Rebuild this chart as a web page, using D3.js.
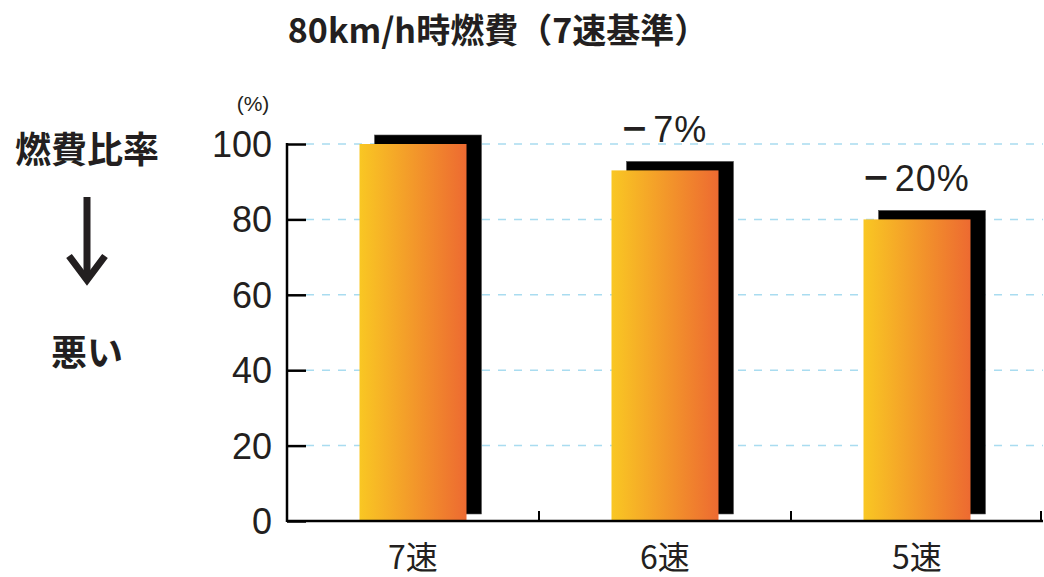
<!DOCTYPE html>
<html><head><meta charset="utf-8">
<script src="https://cdn.jsdelivr.net/npm/d3@7"></script>
<style>
body{margin:0;background:#fff;}
text{fill:#231f20;}
</style></head>
<body>
<svg id="chart" width="1044" height="577"></svg>
<script>
// Fuel consumption ratio at 80 km/h, 7th gear = 100
const categories = ["7速", "6速", "5速"];
const values = [100, 93, 80];
const diffLabels = [null, "7%", "20%"];
const yTicks = [0, 20, 40, 60, 80, 100];

const svg = d3.select("#chart");
const latin = "'Liberation Sans', Arial, sans-serif";
const cjk = "'Noto Sans CJK JP', sans-serif";

const x0 = 287, x1 = 1043, yBase = 521, yTop = 144;
const x = d3.scaleBand().domain(categories).range([x0, x1]).paddingInner(0).paddingOuter(0);
const y = d3.scaleLinear().domain([0, 100]).range([yBase, yTop]);
const barW = 107;
const shadowDx = 15, shadowDy = -9;

const defs = svg.append("defs");
const grad = defs.append("linearGradient").attr("id", "barGrad")
  .attr("x1", "0%").attr("x2", "100%").attr("y1", "0%").attr("y2", "0%");
grad.append("stop").attr("offset", "0%").attr("stop-color", "#f9c723");
grad.append("stop").attr("offset", "100%").attr("stop-color", "#ed6a31");

// Title
svg.append("text").attr("x", 498).attr("y", 43).attr("text-anchor", "middle")
  .style("font-family", cjk).style("font-weight", "bold").style("font-size", "34px")
  .text("80km/h時燃費（7速基準）");

// Left annotation
svg.append("text").attr("x", 87).attr("y", 163).attr("text-anchor", "middle")
  .style("font-family", cjk).style("font-weight", "bold").style("font-size", "36px")
  .text("燃費比率");
svg.append("line").attr("x1", 87).attr("x2", 87).attr("y1", 197).attr("y2", 278)
  .attr("stroke", "#231f20").attr("stroke-width", 7);
svg.append("path").attr("d", "M69,256 L87,280 L105,256")
  .attr("fill", "none").attr("stroke", "#231f20").attr("stroke-width", 7);
svg.append("text").attr("x", 87).attr("y", 366).attr("text-anchor", "middle")
  .style("font-family", cjk).style("font-weight", "bold").style("font-size", "36px")
  .text("悪い");

// Gridlines
svg.append("g").selectAll("line").data(yTicks.filter(d => d > 0)).join("line")
  .attr("x1", x0 + 19).attr("x2", x1).attr("y1", d => y(d)).attr("y2", d => y(d))
  .attr("stroke", "#a9dcf0").attr("stroke-width", 1.5).attr("stroke-dasharray", "8,8");

// Shadow bars
svg.append("g").selectAll("rect").data(values).join("rect")
  .attr("x", (d, i) => x(categories[i]) + (x.bandwidth() - barW) / 2 + shadowDx)
  .attr("y", d => y(d) + shadowDy)
  .attr("width", barW)
  .attr("height", d => yBase - 7 - (y(d) + shadowDy))
  .attr("fill", "#000").attr("stroke", "#555").attr("stroke-width", 0.6);

// Gradient bars
svg.append("g").selectAll("rect").data(values).join("rect")
  .attr("x", (d, i) => x(categories[i]) + (x.bandwidth() - barW) / 2)
  .attr("y", d => y(d))
  .attr("width", barW)
  .attr("height", d => yBase - y(d))
  .attr("fill", "url(#barGrad)");

// Y axis
const yAxis = d3.axisRight(y).tickValues(yTicks).tickSize(19).tickFormat("");
const gy = svg.append("g").attr("transform", `translate(${x0},0)`).call(yAxis);
gy.select(".domain").remove();
gy.selectAll(".tick line").attr("stroke", "#000").attr("stroke-width", 2.5);
svg.append("line").attr("x1", x0).attr("x2", x0).attr("y1", y(100) - 1).attr("y2", yBase + 1)
  .attr("stroke", "#000").attr("stroke-width", 2.5);
svg.append("g").selectAll("text").data(yTicks).join("text")
  .attr("x", 272).attr("y", d => y(d) + 13).attr("text-anchor", "end")
  .style("font-family", latin).style("font-size", "36px").text(d => d);
svg.append("text").attr("x", 253).attr("y", 111).attr("text-anchor", "middle")
  .style("font-family", latin).style("font-size", "21px").text("(%)");

// X axis
svg.append("line").attr("x1", x0).attr("x2", x1).attr("y1", yBase).attr("y2", yBase)
  .attr("stroke", "#000").attr("stroke-width", 2.5);
const bounds = categories.slice(1).map(c => x(c)).concat([x1 - 2]);
svg.append("g").selectAll("line").data(bounds).join("line")
  .attr("x1", d => d).attr("x2", d => d).attr("y1", yBase).attr("y2", yBase - 10)
  .attr("stroke", "#000").attr("stroke-width", 2);
svg.append("g").selectAll("text").data(categories).join("text")
  .attr("x", d => x(d) + x.bandwidth() / 2).attr("y", 569).attr("text-anchor", "middle")
  .style("font-family", cjk).style("font-size", "32px").text(d => d);

// Difference labels: heavy minus sign followed by the percentage
const diff = svg.append("g").selectAll("text")
  .data(values.map((v, i) => ({v, i})).filter(d => diffLabels[d.i]))
  .join("text")
  .attr("x", d => x(categories[d.i]) + x.bandwidth() / 2 - 1)
  .attr("y", d => y(d.v) - 28)
  .attr("text-anchor", "middle")
  .style("font-family", latin).style("font-size", "36px");
diff.append("tspan").attr("dy", -3)
  .style("font-family", "'DejaVu Sans', sans-serif").style("font-weight", "bold")
  .style("font-size", "33px").text("−");
diff.append("tspan").attr("dx", 5).attr("dy", 3).style("letter-spacing", "1px")
  .text(d => diffLabels[d.i]);
</script>
</body></html>
